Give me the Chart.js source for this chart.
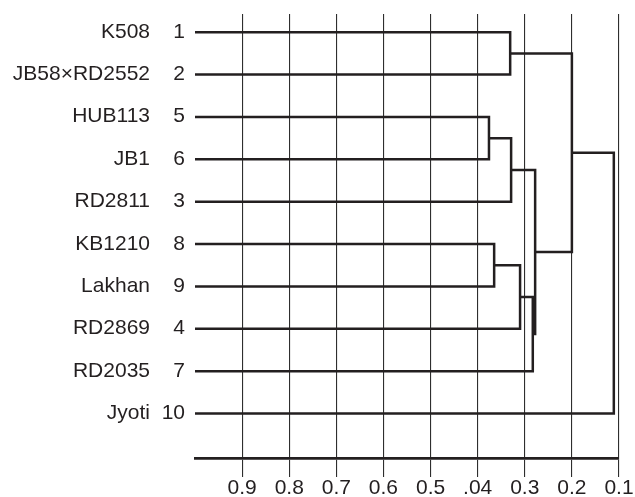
<!DOCTYPE html>
<html lang="en">
<head>
    <meta charset="UTF-8">
    <title>Dendrogram</title>
    <script src="https://cdn.jsdelivr.net/npm/chart.js"></script>
    <style>
        html, body { margin: 0; padding: 0; background: #fff; }
        #wrap { width: 635px; height: 497px; }
    </style>
</head>
<body>
    <div id="wrap"><canvas id="dendro"></canvas></div>

    <script>
        // leaves, top to bottom
        var leafNames = ['K508', 'JB58\u00d7RD2552', 'HUB113', 'JB1', 'RD2811', 'KB1210', 'Lakhan', 'RD2869', 'RD2035', 'Jyoti'];
        var leafNumbers = ['1', '2', '5', '6', '3', '8', '9', '4', '7', '10'];
        var leafHeight = 1.0;

        // merges: node ids 0-9 are leaves, merge k creates node 10 + k
        var mergeLeft = [0, 2, 11, 5, 13, 14, 12, 10, 17];
        var mergeRight = [1, 3, 4, 6, 7, 8, 15, 16, 9];
        var mergeHeights = [0.331, 0.376, 0.329, 0.365, 0.31, 0.283, 0.278, 0.2, 0.111];

        // x axis ticks (label ".04" is as printed)
        var tickValues = [0.9, 0.8, 0.7, 0.6, 0.5, 0.4, 0.3, 0.2, 0.1];
        var tickLabels = ['0.9', '0.8', '0.7', '0.6', '0.5', '.04', '0.3', '0.2', '0.1'];

        var ink = '#231f20';
        var font = 'Liberation Sans, Arial, Helvetica, sans-serif';

        // node positions
        var nodeX = [], nodeY = [];
        for (var i = 0; i < leafNames.length; i++) {
            nodeX.push(leafHeight);
            nodeY.push(i);
        }
        var datasets = [];
        for (var k = 0; k < mergeHeights.length; k++) {
            var a = mergeLeft[k], b = mergeRight[k], h = mergeHeights[k];
            datasets.push({
                data: [
                    { x: nodeX[a], y: nodeY[a] },
                    { x: h, y: nodeY[a] },
                    { x: h, y: nodeY[b] },
                    { x: nodeX[b], y: nodeY[b] }
                ],
                borderColor: ink,
                borderWidth: 2.5,
                borderJoinStyle: 'miter',
                borderCapStyle: 'butt',
                pointRadius: 0,
                fill: false,
                tension: 0,
                clip: false
            });
            nodeX.push(h);
            nodeY.push((nodeY[a] + nodeY[b]) / 2);
        }

        // leaf names and numbers on the left
        var leafLabels = {
            id: 'leafLabels',
            afterDraw: function (chart) {
                var ctx = chart.ctx, yScale = chart.scales.y;
                ctx.save();
                ctx.font = '21px ' + font;
                ctx.fillStyle = ink;
                ctx.textAlign = 'right';
                ctx.textBaseline = 'alphabetic';
                for (var i = 0; i < leafNames.length; i++) {
                    var y = yScale.getPixelForValue(i) + 5.5;
                    ctx.fillText(leafNames[i], 150, y);
                    ctx.fillText(leafNumbers[i], 185, y);
                }
                ctx.restore();
            }
        };

        new Chart(document.getElementById('dendro'), {
            type: 'line',
            data: { datasets: datasets },
            options: {
                responsive: true,
                maintainAspectRatio: false,
                animation: false,
                layout: { padding: { left: 195, right: 16, top: 14, bottom: 0 } },
                plugins: { legend: { display: false }, tooltip: { enabled: false } },
                scales: {
                    x: {
                        type: 'linear',
                        reverse: true,
                        min: 0.1,
                        max: 1.0,
                        afterBuildTicks: function (scale) {
                            scale.ticks = tickValues.map(function (v) { return { value: v }; });
                        },
                        afterFit: function (scale) { scale.height = 39; },
                        grid: {
                            color: '#2e2e2e',
                            lineWidth: 1.1,
                            tickLength: 19
                        },
                        border: { display: true, color: ink, width: 2.8 },
                        ticks: {
                            autoSkip: false,
                            maxRotation: 0,
                            padding: -1,
                            color: ink,
                            font: { size: 21, family: font },
                            callback: function (val, idx) { return tickLabels[idx]; }
                        }
                    },
                    y: {
                        type: 'linear',
                        display: false,
                        reverse: true,
                        min: -0.43,
                        max: 10.05
                    }
                }
            },
            plugins: [leafLabels]
        });
    </script>
</body>
</html>
